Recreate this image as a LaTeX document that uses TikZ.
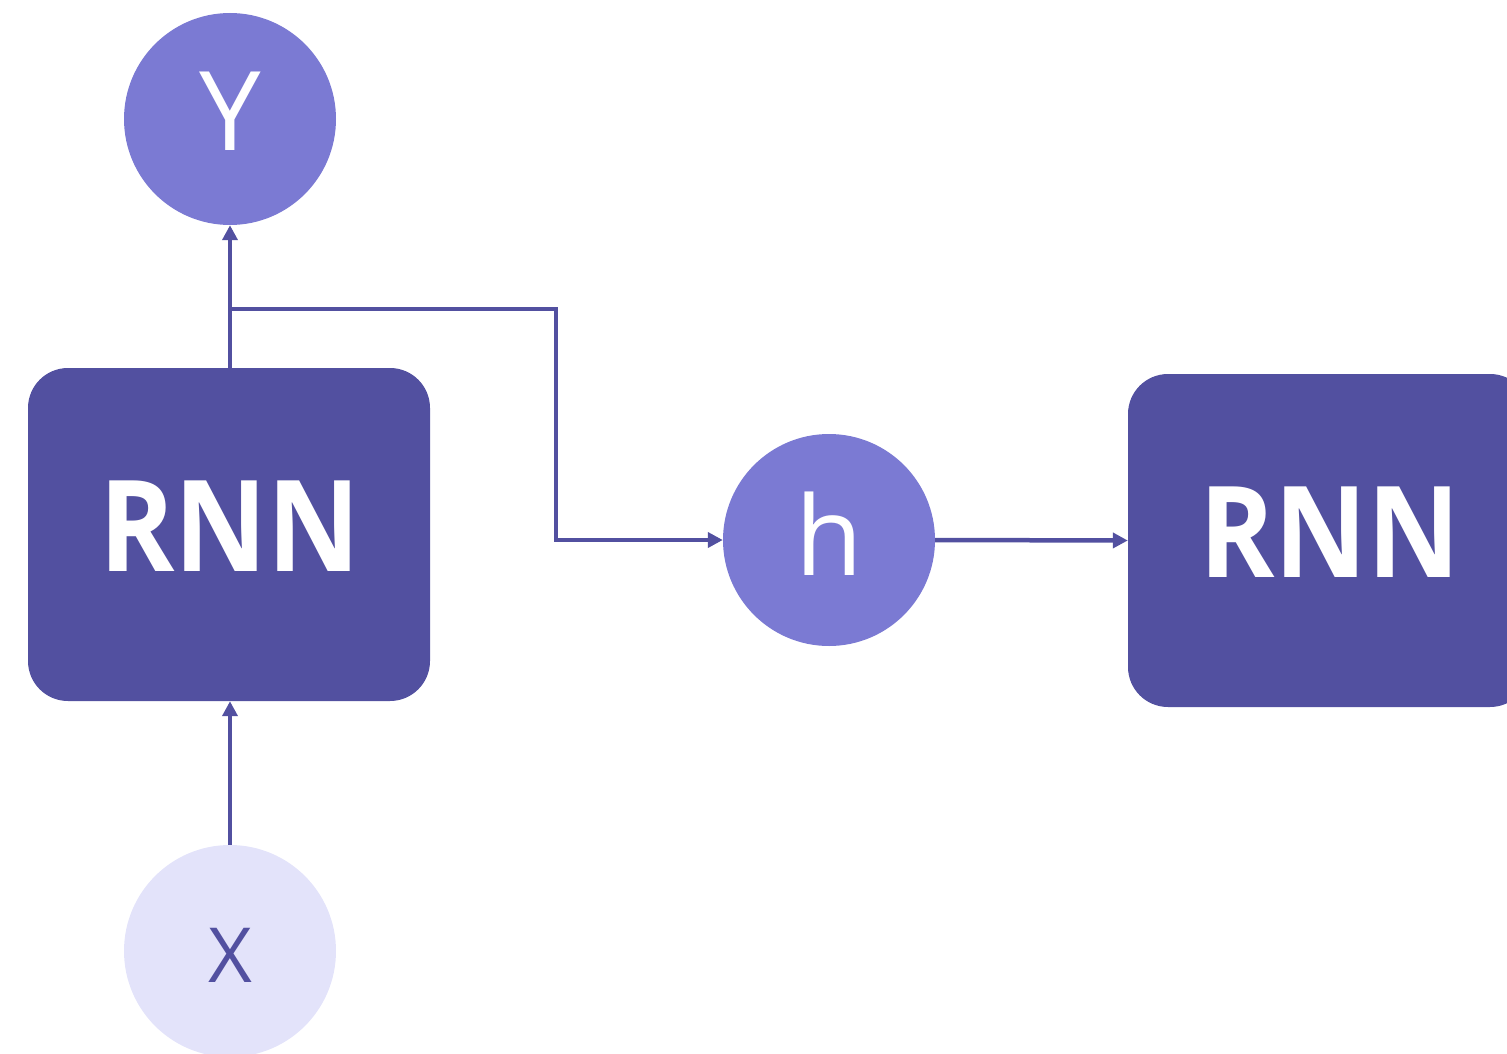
\documentclass[tikz,border=0pt]{standalone}
\usepackage{fontspec}
\setmainfont{Open Sans}
\usetikzlibrary{arrows.meta}
\definecolor{boxc}{HTML}{5250A0}
\definecolor{circc}{HTML}{7B7AD3}
\definecolor{lightc}{HTML}{E3E3FA}
\tikzset{
  rnnbox/.style={fill=boxc, rounded corners=40pt, minimum width=402pt, minimum height=333pt, inner sep=0pt},
  rnntext/.style={text=white, inner sep=0pt, xscale=0.9, font=\fontsize{127}{127}\selectfont\bfseries},
  bigcirc/.style={circle, fill=circc, minimum size=212pt, inner sep=0pt},
  smallcirc/.style={circle, fill=lightc, minimum size=212pt, inner sep=0pt},
  bigletter/.style={text=white, font=\fontsize{110}{110}\selectfont},
  conn/.style={draw=boxc, line width=4.5pt, -{Triangle[length=15pt,width=15pt]}},
}
\begin{document}
\begin{tikzpicture}[x=1pt,y=-1pt]
\useasboundingbox (0,0) rectangle (1507,1054);
\clip (0,0) rectangle (1507,1054);
\node[bigcirc] (Y) at (230,119) {};
\node[bigletter] (TY) at (230,111.5) {Y};
\node[bigcirc] (h) at (829,540) {};
\node[bigletter] (Th) at (829,534) {h};
\node[smallcirc] (X) at (230,951) {};
\node[text=boxc, font=\fontsize{76}{76}\selectfont] (TX) at (230,955) {X};
\node[rnnbox] (R1) at (229,534.5) {};
\node[rnntext] (T1) at (230,526.5) {RNN};
\node[rnnbox] (R2) at (1329,540.5) {};
\node[rnntext] (T2) at (1330,532.5) {RNN};
\coordinate (b1) at (231,309);
\coordinate (b2) at (556,309);
\coordinate (b3) at (556,540);
\draw[conn] (X.north) -- (R1.south -| X.north);
\draw[conn] (R1.north -| Y.south) -- (Y.south);
\draw[conn] (b1) -- (b2) -- (b3) -- (h.west);
\draw[conn] (h.east) -- (R2.west);
\end{tikzpicture}
\end{document}
